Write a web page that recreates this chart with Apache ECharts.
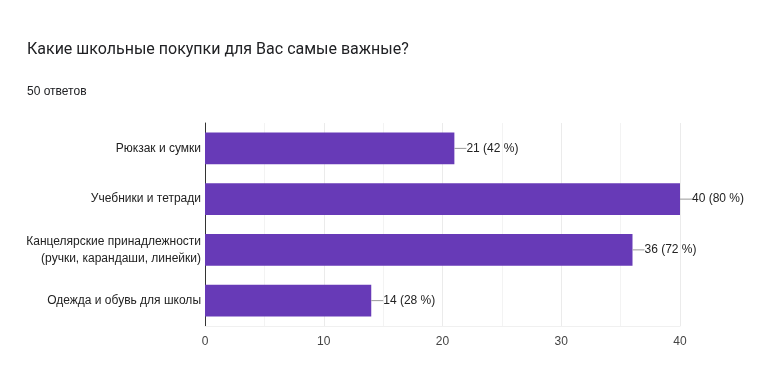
<!DOCTYPE html>
<html><head><meta charset="utf-8">
<script src="https://cdn.jsdelivr.net/npm/echarts@6/dist/echarts.min.js"></script>
<style>html,body{margin:0;padding:0;background:#fff}#c{width:764px;height:382px}</style>
</head><body><div id="c"></div>
<script>
const categories = ["Рюкзак и сумки", "Учебники и тетради", "Канцелярские принадлежности\n(ручки, карандаши, линейки)", "Одежда и обувь для школы"];
const counts = [21, 40, 36, 14];
const percents = [42, 80, 72, 28];
const total = 50;
const xTicks = [0, 10, 20, 30, 40];

const F = '"Liberation Sans", Arial, sans-serif';
const chart = echarts.init(document.getElementById('c'), null, {renderer: 'canvas'});
chart.setOption({
  animation: false,
  title: [
    {text: 'Какие школьные покупки для Вас самые важные?', left: 22, top: 37,
     textStyle: {fontFamily: 'Roboto', fontSize: 16, fontWeight: 'normal', color: '#202124'}},
    {text: total + ' ответов', left: 22, top: 81,
     textStyle: {fontFamily: F, fontSize: 12, fontWeight: 'normal', color: '#202124'}}
  ],
  grid: {left: 205, right: 84, top: 123, height: 203, containLabel: false},
  xAxis: {
    type: 'value', min: xTicks[0], max: xTicks[xTicks.length - 1], interval: 10,
    axisLine: {show: true, lineStyle: {color: '#f0f0f0', width: 1}},
    axisTick: {show: false},
    axisLabel: {color: '#444', fontFamily: F, fontSize: 12, margin: 10},
    splitLine: {show: true, lineStyle: {color: '#ebebeb'}},
    minorTick: {show: false, splitNumber: 2},
    minorSplitLine: {show: true, lineStyle: {color: '#f3f3f3'}}
  },
  yAxis: {
    type: 'category', inverse: true, data: categories,
    axisLine: {show: true, lineStyle: {color: '#333', width: 1}},
    axisTick: {show: false},
    axisLabel: {color: '#222', fontFamily: F, fontSize: 12, margin: 4, lineHeight: 17, align: 'right'}
  },
  series: [{
    type: 'bar', data: counts, barCategoryGap: '37%',
    itemStyle: {color: '#673ab7'},
    label: {
      show: true, position: 'right', distance: 0,
      fontFamily: F, fontSize: 12, color: '#222',
      formatter: p => '{l|}' + p.value + ' (' + percents[p.dataIndex] + ' %)',
      rich: {l: {width: 12, height: 1, backgroundColor: '#999', padding: 0}}
    }
  }]
});
</script></body></html>
